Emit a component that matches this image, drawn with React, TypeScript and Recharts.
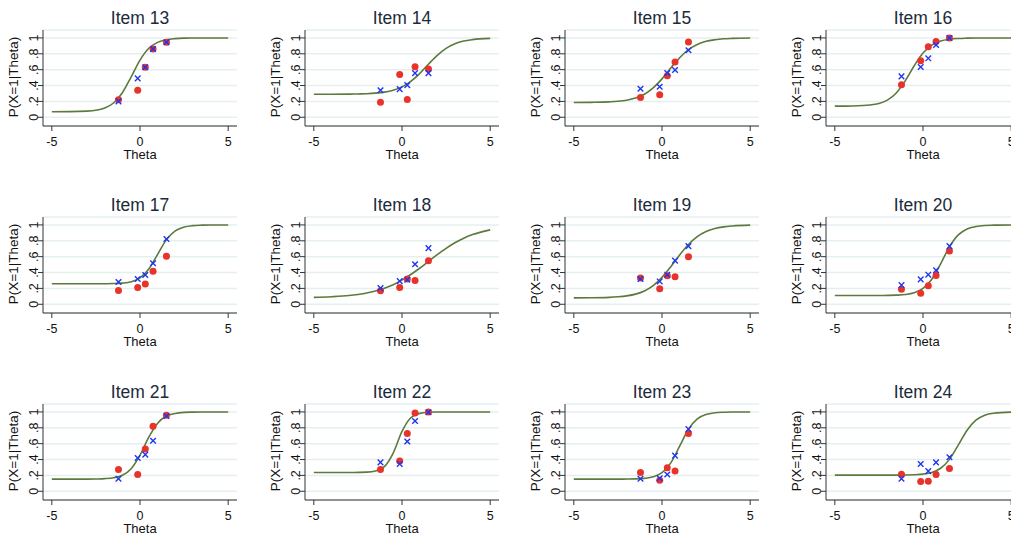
import React from "react";
import {
  ComposedChart,
  Line,
  Scatter,
  XAxis,
  YAxis,
  CartesianGrid,
} from "recharts";

const thetaGrid = [-5, -4, -3, -2.5, -2, -1.5, -1, -0.5, 0, 0.5, 1, 1.5, 2, 2.5, 3, 3.5, 4, 5];
// theta of the observed groups
const obsTheta = [-1.22, -0.13, 0.3, 0.74, 1.5];

const xTicks = [-5, 0, 5];
const yTicks = [0, 0.2, 0.4, 0.6, 0.8, 1];
const yTickLabels = ["0", ".2", ".4", ".6", ".8", "1"];

const itemNames = ["Item 13", "Item 14", "Item 15", "Item 16", "Item 17", "Item 18", "Item 19", "Item 20", "Item 21", "Item 22", "Item 23", "Item 24"];

const item13Curve = [0.07, 0.071, 0.077, 0.088, 0.117, 0.18, 0.31, 0.51, 0.72, 0.87, 0.944, 0.978, 0.991, 0.997, 0.999, 1, 1, 1];
const item13Red = [0.22, 0.34, 0.63, 0.86, 0.945];
const item13Blue = [0.2, 0.49, 0.63, 0.86, 0.945];

const item14Curve = [0.29, 0.29, 0.292, 0.294, 0.297, 0.304, 0.317, 0.34, 0.383, 0.453, 0.551, 0.669, 0.781, 0.869, 0.927, 0.961, 0.979, 0.994];
const item14Red = [0.19, 0.54, 0.225, 0.637, 0.61];
const item14Blue = [0.34, 0.355, 0.405, 0.557, 0.557];

const item15Curve = [0.186, 0.188, 0.194, 0.201, 0.215, 0.242, 0.29, 0.37, 0.484, 0.621, 0.751, 0.853, 0.918, 0.957, 0.977, 0.989, 0.994, 0.999];
const item15Red = [0.25, 0.283, 0.523, 0.696, 0.949];
const item15Blue = [0.359, 0.384, 0.557, 0.595, 0.844];

const item16Curve = [0.14, 0.143, 0.155, 0.174, 0.22, 0.31, 0.462, 0.649, 0.81, 0.91, 0.96, 0.983, 0.993, 0.997, 0.999, 1, 1, 1];
const item16Red = [0.41, 0.713, 0.89, 0.954, 1.0];
const item16Blue = [0.515, 0.633, 0.743, 0.911, 1.0];

const item17Curve = [0.258, 0.258, 0.258, 0.258, 0.259, 0.261, 0.267, 0.284, 0.332, 0.444, 0.629, 0.815, 0.926, 0.973, 0.991, 0.997, 0.999, 1];
const item17Red = [0.174, 0.212, 0.254, 0.415, 0.606];
const item17Blue = [0.28, 0.318, 0.369, 0.517, 0.822];

const item18Curve = [0.087, 0.095, 0.11, 0.124, 0.142, 0.168, 0.202, 0.247, 0.305, 0.375, 0.454, 0.54, 0.625, 0.705, 0.775, 0.833, 0.878, 0.938];
const item18Red = [0.17, 0.212, 0.318, 0.3, 0.55];
const item18Blue = [0.203, 0.292, 0.31, 0.504, 0.708];

const item19Curve = [0.081, 0.082, 0.087, 0.094, 0.106, 0.128, 0.168, 0.236, 0.339, 0.474, 0.622, 0.754, 0.853, 0.917, 0.955, 0.976, 0.987, 0.997];
const item19Red = [0.33, 0.195, 0.36, 0.347, 0.6];
const item19Blue = [0.318, 0.288, 0.373, 0.55, 0.733];

const item20Curve = [0.11, 0.11, 0.11, 0.111, 0.112, 0.115, 0.123, 0.145, 0.199, 0.316, 0.51, 0.724, 0.874, 0.949, 0.98, 0.993, 0.997, 1];
const item20Red = [0.19, 0.14, 0.233, 0.364, 0.67];
const item20Blue = [0.242, 0.314, 0.373, 0.428, 0.733];

const item21Curve = [0.153, 0.153, 0.153, 0.155, 0.159, 0.17, 0.202, 0.285, 0.455, 0.682, 0.858, 0.948, 0.981, 0.994, 0.998, 1, 1, 1];
const item21Red = [0.275, 0.212, 0.534, 0.818, 0.958];
const item21Blue = [0.157, 0.42, 0.462, 0.636, 0.949];

const item22Curve = [0.237, 0.237, 0.237, 0.238, 0.241, 0.255, 0.31, 0.482, 0.755, 0.927, 0.982, 0.996, 0.999, 1, 1, 1, 1, 1];
const item22Red = [0.275, 0.381, 0.729, 0.987, 1.0];
const item22Blue = [0.364, 0.343, 0.627, 0.886, 0.996];

const item23Curve = [0.153, 0.153, 0.153, 0.153, 0.154, 0.156, 0.163, 0.182, 0.234, 0.358, 0.568, 0.782, 0.913, 0.969, 0.989, 0.996, 0.999, 1];
const item23Red = [0.237, 0.14, 0.297, 0.254, 0.729];
const item23Blue = [0.157, 0.165, 0.212, 0.449, 0.784];

const item24Curve = [0.203, 0.203, 0.203, 0.203, 0.203, 0.204, 0.205, 0.208, 0.216, 0.237, 0.29, 0.402, 0.582, 0.77, 0.896, 0.959, 0.984, 0.998];
const item24Red = [0.216, 0.123, 0.127, 0.212, 0.288];
const item24Blue = [0.157, 0.343, 0.254, 0.364, 0.428];

const curves = [item13Curve, item14Curve, item15Curve, item16Curve, item17Curve, item18Curve, item19Curve, item20Curve, item21Curve, item22Curve, item23Curve, item24Curve];
const reds = [item13Red, item14Red, item15Red, item16Red, item17Red, item18Red, item19Red, item20Red, item21Red, item22Red, item23Red, item24Red];
const blues = [item13Blue, item14Blue, item15Blue, item16Blue, item17Blue, item18Blue, item19Blue, item20Blue, item21Blue, item22Blue, item23Blue, item24Blue];

const PANEL_W = 261;
const PANEL_H = 187;
const colLeft = [0, 262, 522, 783];
const rowTop = [0, 187, 374];

const FONT = '"Liberation Sans", Arial, Helvetica, sans-serif';
const CURVE = "#5b7a3c";
const RED = "#e8332a";
const BLUE = "#1f36f0";
const GRID = "#e6eff0";
const AXIS = "#333";

const RedDot = (props: any) => {
  const { cx, cy } = props;
  if (cx == null || cy == null) return null;
  return <circle cx={cx} cy={cy} r={3.5} fill={RED} />;
};

const BlueX = (props: any) => {
  const { cx, cy } = props;
  if (cx == null || cy == null) return null;
  const s = 2.8;
  return (
    <path
      d={`M${cx - s},${cy - s}L${cx + s},${cy + s}M${cx - s},${cy + s}L${cx + s},${cy - s}`}
      stroke={BLUE}
      strokeWidth={1.4}
      fill="none"
    />
  );
};

const YTick = (props: any) => {
  const { x, y, payload } = props;
  const cx = x - 4;
  const i = yTicks.findIndex((t) => Math.abs(t - payload.value) < 1e-6);
  return (
    <text
      x={cx}
      y={y}
      transform={`rotate(-90, ${cx}, ${y})`}
      textAnchor="middle"
      dominantBaseline="central"
      fontSize={12.5}
      fontFamily={FONT}
      fill="#111"
    >
      {i >= 0 ? yTickLabels[i] : payload.value}
    </text>
  );
};

const XTick = (props: any) => {
  const { x, y, payload } = props;
  return (
    <text x={x} y={y + 15} textAnchor="middle" fontSize={12.5} fontFamily={FONT} fill="#111">
      {payload.value}
    </text>
  );
};

const Panel = ({ idx }: { idx: number }) => {
  const curveData = thetaGrid.map((t, i) => ({ theta: t, p: curves[idx][i] }));
  const obsData = obsTheta.map((t, i) => ({ theta: t, red: reds[idx][i], blue: blues[idx][i] }));
  const left = colLeft[idx % 4];
  const top = rowTop[Math.floor(idx / 4)];
  return (
    <div style={{ position: "absolute", left, top, width: PANEL_W, height: PANEL_H }}>
      <ComposedChart
        width={PANEL_W}
        height={PANEL_H}
        margin={{ top: 30, right: 24, bottom: 0, left: 0 }}
      >
        <CartesianGrid horizontal vertical={false} stroke={GRID} strokeWidth={1.5} />
        <XAxis
          dataKey="theta"
          type="number"
          domain={[-5.5, 5.5]}
          ticks={xTicks}
          interval={0}
          height={61}
          tickSize={5}
          tickMargin={0}
          tick={<XTick />}
          stroke={AXIS}
          allowDataOverflow
        />
        <YAxis
          type="number"
          domain={[-0.11, 1.1]}
          ticks={yTicks}
          interval={0}
          width={43}
          tickSize={5}
          tickMargin={0}
          tick={<YTick />}
          stroke={AXIS}
          allowDataOverflow
        />
        <Line
          data={curveData}
          dataKey="p"
          type="monotone"
          stroke={CURVE}
          strokeWidth={1.6}
          dot={false}
          activeDot={false}
          isAnimationActive={false}
        />
        <Scatter data={obsData} dataKey="red" shape={<RedDot />} isAnimationActive={false} />
        <Scatter data={obsData} dataKey="blue" shape={<BlueX />} isAnimationActive={false} />
      </ComposedChart>
      <svg
        width={PANEL_W}
        height={PANEL_H}
        style={{ position: "absolute", left: 0, top: 0, pointerEvents: "none" }}
      >
        <text x={140} y={24} textAnchor="middle" fontSize={17.5} fontFamily={FONT} fill="#1c2b3a">
          {itemNames[idx]}
        </text>
        <text x={140} y={159} textAnchor="middle" fontSize={13} fontFamily={FONT} fill="#111">
          Theta
        </text>
        <text
          x={18}
          y={77}
          transform="rotate(-90, 18, 77)"
          textAnchor="middle"
          fontSize={13.5}
          fontFamily={FONT}
          fill="#111"
        >
          P(X=1|Theta)
        </text>
      </svg>
    </div>
  );
}

export default function App() {
  return (
    <div
      style={{
        position: "absolute",
        left: 0,
        top: 0,
        width: 1011,
        height: 537,
        background: "#fff",
        overflow: "hidden",
      }}
    >
      {itemNames.map((_, i) => (
        <Panel key={i} idx={i} />
      ))}
    </div>
  );
}
